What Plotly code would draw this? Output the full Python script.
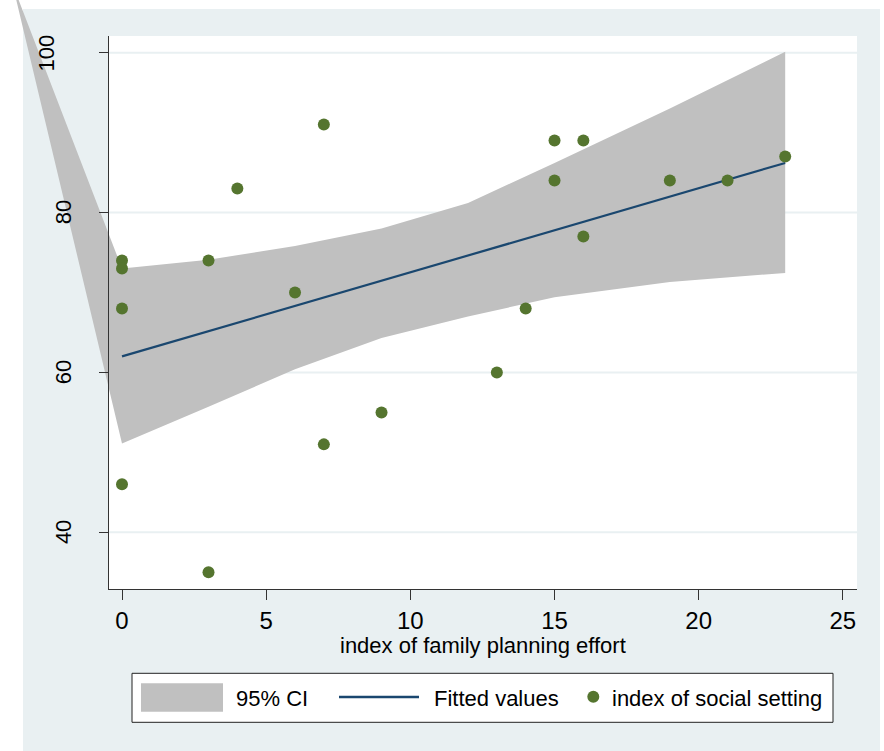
import plotly.graph_objects as go

# ---------------- data ----------------
effort = [0, 0, 16, 16, 21, 15, 14, 6, 13, 9, 3, 7, 23, 4, 0, 19, 3, 0, 15, 7]
setting = [46, 74, 89, 77, 84, 89, 68, 70, 60, 55, 35, 51, 87, 83, 68, 84, 74, 73, 84, 91]

fit_x = [0, 23]
fit_y = [62.0, 86.2]

ci_x = [0, 3, 6, 9, 12, 15, 19, 23]
ci_upper = [73.0, 74.1, 75.8, 78.0, 81.2, 86.2, 93.0, 100.1]
ci_lower = [51.1, 55.7, 60.4, 64.3, 67.0, 69.4, 71.3, 72.45]
# stray vertex of the drawn CI polygon (outside the plot region)
ci_stray_x = -3.8
ci_stray_y = 108.6

x_ticks = [0, 5, 10, 15, 20, 25]
y_ticks = [40, 60, 80, 100]

x_title = "index of family planning effort"
legend_labels = ["95% CI", "Fitted values", "index of social setting"]

# ---------------- layout constants ----------------
W, H = 884, 751
ML, MR, MT, MB = 109, 27, 36, 162
PW, PH = W - ML - MR, H - MT - MB
X_RANGE = [-0.451, 25.49]
Y_RANGE = [32.91, 102.08]

BG = "#E9F0F2"
NAVY = "#1A476F"
GREEN = "#55752F"
BAND = "#C0C0C0"
AXC = "#333333"
FONT = "Liberation Sans, Arial, sans-serif"


def pxx(px):
    return (px - ML) / PW


def pxy(py):
    return (H - MB - py) / PH


def dx(v):
    return (v - X_RANGE[0]) / (X_RANGE[1] - X_RANGE[0])


def dy(v):
    return (v - Y_RANGE[0]) / (Y_RANGE[1] - Y_RANGE[0])


fig = go.Figure()

fig.add_trace(go.Scatter(x=fit_x, y=fit_y, mode="lines",
                         line=dict(color=NAVY, width=2.2), showlegend=False,
                         hoverinfo="skip"))
fig.add_trace(go.Scatter(x=effort, y=setting, mode="markers",
                         marker=dict(color=GREEN, size=12, line=dict(width=0)),
                         showlegend=False))

shapes = []
# outer graph region
shapes.append(dict(type="rect", xref="paper", yref="paper", layer="below",
                   x0=pxx(23), x1=pxx(880), y0=pxy(760), y1=pxy(9),
                   fillcolor=BG, line=dict(width=0)))
# plot region
shapes.append(dict(type="rect", xref="paper", yref="paper", layer="below",
                   x0=0, x1=1, y0=0, y1=1, fillcolor="white", line=dict(width=0)))
# grid lines
for v in y_ticks:
    shapes.append(dict(type="line", xref="paper", yref="paper", layer="below",
                       x0=0, x1=1, y0=dy(v), y1=dy(v),
                       line=dict(color=BG, width=2)))
# CI band polygon (not clipped, like the original)
pts = [(dx(x), dy(u)) for x, u in zip(ci_x, ci_upper)]
pts += [(dx(x), dy(l)) for x, l in zip(ci_x[::-1], ci_lower[::-1])]
pts += [(dx(ci_stray_x), dy(ci_stray_y))]
path = "M " + " L ".join(f"{a:.5f},{b:.5f}" for a, b in pts) + " Z"
shapes.append(dict(type="path", xref="paper", yref="paper", layer="below",
                   path=path, fillcolor=BAND, line=dict(width=0)))

# legend (drawn manually to match the Stata legend)
shapes.append(dict(type="rect", xref="paper", yref="paper", layer="above",
                   x0=pxx(132), x1=pxx(833), y0=pxy(722.3), y1=pxy(673.3),
                   fillcolor="white", line=dict(color="#222222", width=1)))
shapes.append(dict(type="rect", xref="paper", yref="paper", layer="above",
                   x0=pxx(141), x1=pxx(223), y0=pxy(711.7), y1=pxy(683.3),
                   fillcolor=BAND, line=dict(width=0)))
shapes.append(dict(type="line", xref="paper", yref="paper", layer="above",
                   x0=pxx(339), x1=pxx(419), y0=pxy(697), y1=pxy(697),
                   line=dict(color=NAVY, width=2.5)))
shapes.append(dict(type="circle", xref="paper", yref="paper", layer="above",
                   x0=pxx(587.3), x1=pxx(599.3), y0=pxy(702.7), y1=pxy(690.7),
                   fillcolor=GREEN, line=dict(width=0)))

annotations = []
annotations.append(dict(text=x_title, xref="paper", yref="paper", x=0.5, y=pxy(645),
                        xanchor="center", yanchor="middle", showarrow=False,
                        font=dict(family=FONT, size=22, color="black")))
for v in y_ticks:
    cx = 46.8 if v >= 100 else 63.8
    annotations.append(dict(text=str(v), xref="paper", yref="y", x=pxx(cx), y=v,
                            textangle=-90, xanchor="center", yanchor="middle",
                            showarrow=False,
                            font=dict(family=FONT, size=22, color="black")))
for lab, lx in zip(legend_labels, [234, 432, 610]):
    annotations.append(dict(text=lab, xref="paper", yref="paper", x=pxx(lx), y=pxy(698),
                            xanchor="left", yanchor="middle", showarrow=False,
                            font=dict(family=FONT, size=22, color="black")))

fig.update_layout(
    template="none",
    width=W, height=H,
    margin=dict(l=ML, r=MR, t=MT, b=MB, pad=0),
    paper_bgcolor="white", plot_bgcolor="white",
    showlegend=False,
    shapes=shapes, annotations=annotations,
    font=dict(family=FONT, color="black"),
    xaxis=dict(range=X_RANGE, tickvals=x_ticks, ticktext=[str(t) for t in x_ticks],
               ticks="outside", ticklen=10, tickwidth=1, tickcolor=AXC,
               showline=True, linecolor=AXC, linewidth=1,
               showgrid=False, zeroline=False, automargin=False,
               tickfont=dict(family=FONT, size=24, color="black")),
    yaxis=dict(range=Y_RANGE, tickvals=y_ticks,
               ticks="outside", ticklen=9, tickwidth=1, tickcolor=AXC,
               showline=True, linecolor=AXC, linewidth=1,
               showticklabels=False,
               showgrid=False, zeroline=False, automargin=False),
)

fig.write_html("out.html")
